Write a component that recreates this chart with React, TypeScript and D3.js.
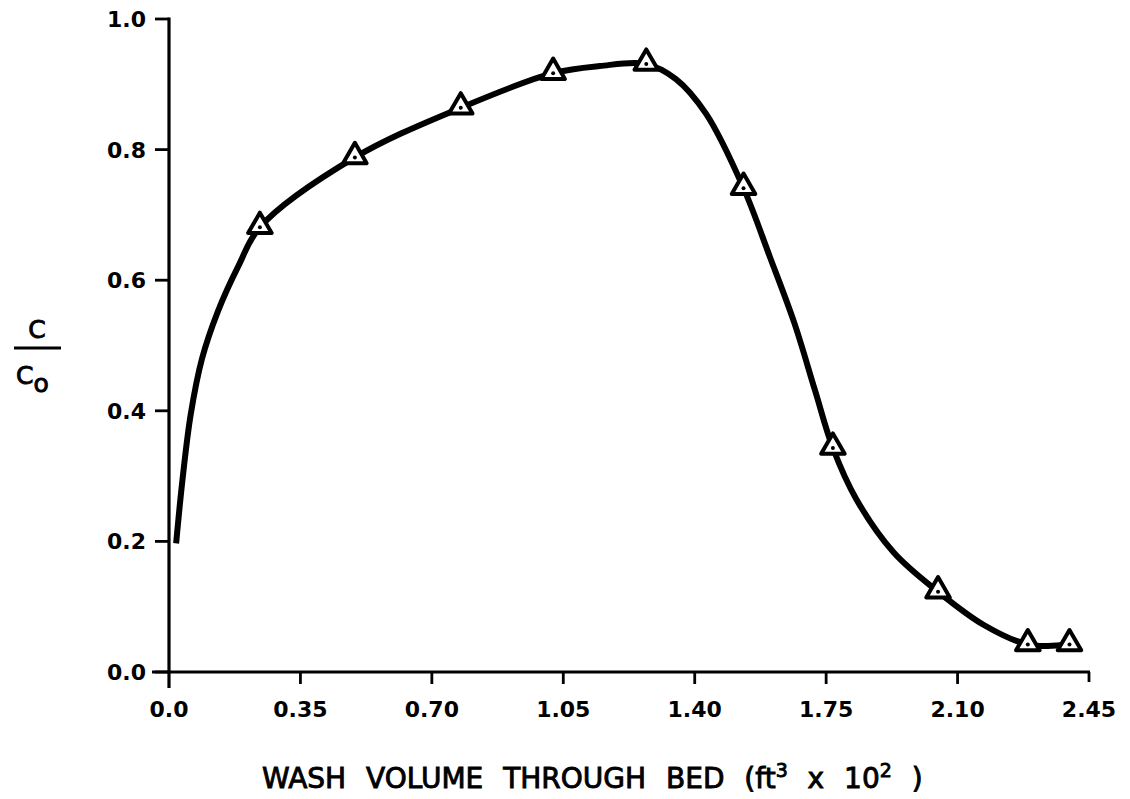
import React from "react";
import * as d3 from "d3";

// Observed data points (triangle markers)
const markerX = [0.242, 0.495, 0.777, 1.023, 1.271, 1.53, 1.768, 2.048, 2.287, 2.398];
const markerY = [0.681, 0.788, 0.864, 0.917, 0.931, 0.741, 0.343, 0.123, 0.042, 0.042];

// Hand-drawn smooth curve (intermediate points)
const curveX = [0.019, 0.036, 0.058, 0.088, 0.13, 0.185, 1.147, 1.35, 1.43, 1.6, 1.665, 1.72, 1.83, 1.93, 2.17, 2.34];
const curveY = [0.197, 0.295, 0.395, 0.48, 0.552, 0.622, 0.928, 0.908, 0.855, 0.636, 0.535, 0.432, 0.265, 0.183, 0.072, 0.04];

const xTicks = [0.0, 0.35, 0.7, 1.05, 1.4, 1.75, 2.1, 2.45];
const xTickLabels = ["0.0", "0.35", "0.70", "1.05", "1.40", "1.75", "2.10", "2.45"];
const yTicks = [0.0, 0.2, 0.4, 0.6, 0.8, 1.0];
const yTickLabels = ["0.0", "0.2", "0.4", "0.6", "0.8", "1.0"];

const FONT = "'DejaVu Sans', sans-serif";

export default function App() {
  const W = 1130;
  const H = 799;
  const x = d3.scaleLinear().domain([0, 2.45]).range([169, 1089]);
  const y = d3.scaleLinear().domain([0, 1]).range([672, 19]);

  const pts: [number, number][] = [];
  markerX.forEach((v, i) => pts.push([v, markerY[i]]));
  curveX.forEach((v, i) => pts.push([v, curveY[i]]));
  pts.sort((a, b) => a[0] - b[0]);

  const line = d3
    .line<[number, number]>()
    .x((d) => x(d[0]))
    .y((d) => y(d[1]))
    .curve(d3.curveCatmullRom.alpha(0.5));

  const tri = d3.symbol().type(d3.symbolTriangle).size(240)();

  const tickStyle = {
    fontFamily: FONT,
    fontWeight: 700,
    fill: "#000",
  } as React.CSSProperties;

  const labelStyle = {
    fontFamily: FONT,
    fill: "#000",
    stroke: "#000",
    strokeWidth: 0.9,
  } as React.CSSProperties;

  const x0 = x(0);
  const y0 = y(0);

  return (
    <div style={{ position: "absolute", left: 0, top: 0 }}>
      <svg width={W} height={H} style={{ display: "block", background: "#fff" }}>
        {/* axes */}
        <line x1={x0} x2={x0} y1={y(1) - 1.5} y2={y0 + 16} stroke="#000" strokeWidth={3.2} />
        <line x1={152} x2={x(2.45) + 1} y1={y0} y2={y0} stroke="#000" strokeWidth={3.2} />
        {yTicks.map((t) => (
          <line key={"yt" + t} x1={155} x2={x0} y1={y(t)} y2={y(t)} stroke="#000" strokeWidth={2.8} />
        ))}
        {xTicks.slice(1).map((t) => (
          <line key={"xt" + t} x1={x(t)} x2={x(t)} y1={y0} y2={y0 + (t === 2.45 ? 10 : 12)} stroke="#000" strokeWidth={2.8} />
        ))}
        {yTicks.map((t, i) => (
          <text key={"yl" + t} x={146} y={y(t)} dy="0.36em" textAnchor="end" fontSize={22} style={tickStyle}>
            {yTickLabels[i]}
          </text>
        ))}
        {xTicks.map((t, i) => (
          <text key={"xl" + t} x={x(t)} y={717} textAnchor="middle" fontSize={22} style={tickStyle}>
            {xTickLabels[i]}
          </text>
        ))}

        {/* curve */}
        <path d={line(pts) || ""} fill="none" stroke="#000" strokeWidth={6} strokeLinejoin="round" strokeLinecap="butt" />

        {/* markers */}
        {markerX.map((v, i) => (
          <g key={"m" + i} transform={`translate(${x(v)},${y(markerY[i]) - 1})`}>
            <path d={tri || ""} fill="#fff" stroke="#000" strokeWidth={4} strokeLinejoin="round" />
            <circle cx={0} cy={1} r={2} fill="#000" />
          </g>
        ))}

        {/* y label */}
        <text x={37} y={338} textAnchor="middle" fontSize={25} style={labelStyle}>C</text>
        <line x1={14} x2={61} y1={348} y2={348} stroke="#000" strokeWidth={2.8} />
        <text x={16} y={384} fontSize={25} style={labelStyle}>
          C<tspan fontSize={25} dy={8}>o</tspan>
        </text>

        {/* x title */}
        <text x={262} y={788} fontSize={28} style={{ ...labelStyle, wordSpacing: "11px" }}>
          WASH VOLUME THROUGH BED (ft<tspan fontSize={19} dy={-11}>3</tspan>
          <tspan dy={11}> x 10</tspan>
          <tspan fontSize={19} dy={-11}>2</tspan>
          <tspan dy={11}> )</tspan>
        </text>
      </svg>
    </div>
  );
}
